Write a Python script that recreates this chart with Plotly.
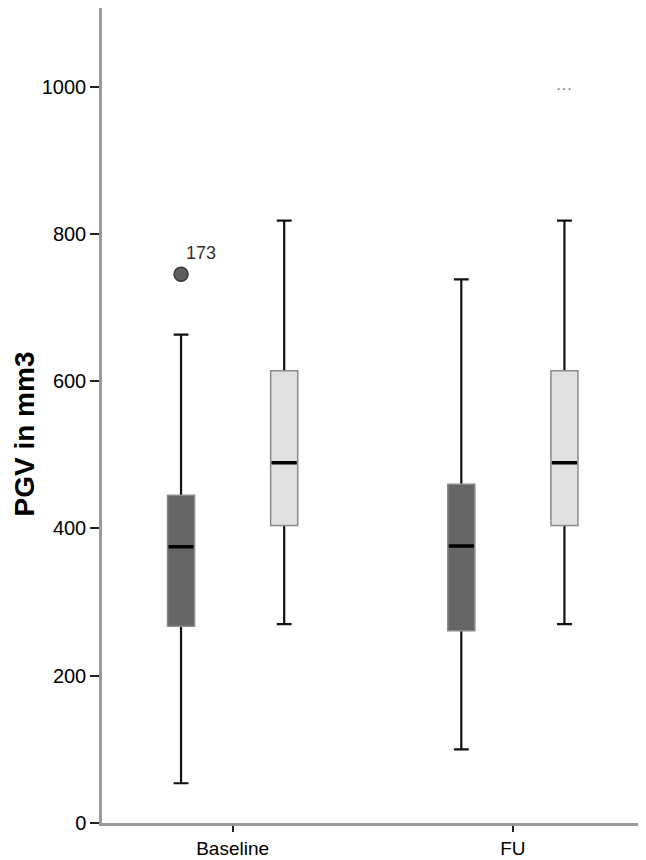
import plotly.graph_objects as go

# ---------------- data ----------------
CATEGORIES = ["Baseline", "FU"]

DARK_LOWER = [54, 100]
DARK_Q1 = [267, 261]
DARK_MEDIAN = [375, 376]
DARK_Q3 = [445, 460]
DARK_UPPER = [663, 738]

LIGHT_LOWER = [270, 270]
LIGHT_Q1 = [404, 404]
LIGHT_MEDIAN = [489, 489]
LIGHT_Q3 = [614, 614]
LIGHT_UPPER = [818, 818]

OUTLIER_CATEGORY = ["Baseline"]
OUTLIER_VALUE = [745]
OUTLIER_LABEL = ["173"]

EXTRA_LABEL_CATEGORY = ["FU"]
EXTRA_LABEL_VALUE = [997]
EXTRA_LABEL_TEXT = ["···"]

Y_TICKS = [0, 200, 400, 600, 800, 1000]
Y_TITLE = "PGV in mm3"

# ---------------- style ----------------
FONT = "Liberation Sans, Arial, sans-serif"
OFFSET = 0.184
BOX_W = 0.0965
DARK_FILL = "#666666"
LIGHT_FILL = "#e1e1e1"
OUTLINE = "#8a8a8a"
INK = "#111111"

fig = go.Figure()


def add_series(offset, fill, lower, q1, med, q3, upper):
    pos = [i + offset for i in range(len(CATEGORIES))]
    # whiskers + caps (collapsed box at the median)
    fig.add_trace(go.Box(
        x=pos, q1=med, median=med, q3=med, lowerfence=lower, upperfence=upper,
        orientation="v", width=BOX_W, whiskerwidth=0.55, boxpoints=False,
        line=dict(color=INK, width=2.2), fillcolor="rgba(0,0,0,0)",
        hoverinfo="skip", showlegend=False))
    # filled box with grey outline
    fig.add_trace(go.Box(
        x=pos, q1=q1, median=med, q3=q3, lowerfence=q1, upperfence=q3,
        orientation="v", width=BOX_W, whiskerwidth=0, boxpoints=False,
        line=dict(color=OUTLINE, width=1.5), fillcolor=fill,
        hoverinfo="skip", showlegend=False))
    # thick median line
    fig.add_trace(go.Box(
        x=pos, q1=med, median=med, q3=med, lowerfence=med, upperfence=med,
        orientation="v", width=BOX_W * 0.93, whiskerwidth=0, boxpoints=False,
        line=dict(color="#000000", width=3.5), fillcolor="rgba(0,0,0,0)",
        hoverinfo="skip", showlegend=False))
    return pos


add_series(-OFFSET, DARK_FILL, DARK_LOWER, DARK_Q1, DARK_MEDIAN, DARK_Q3, DARK_UPPER)
add_series(OFFSET, LIGHT_FILL, LIGHT_LOWER, LIGHT_Q1, LIGHT_MEDIAN, LIGHT_Q3, LIGHT_UPPER)

# outliers (dark series)
out_x = [CATEGORIES.index(c) - OFFSET for c in OUTLIER_CATEGORY]
fig.add_trace(go.Scatter(
    x=out_x, y=OUTLIER_VALUE, mode="markers",
    marker=dict(size=14, color="#5f5f5f", line=dict(color="#3a3a3a", width=1.5)),
    hoverinfo="skip", showlegend=False))
for x, y, t in zip(out_x, OUTLIER_VALUE, OUTLIER_LABEL):
    fig.add_annotation(x=x, y=y, text=t, showarrow=False, xanchor="left",
                       yanchor="bottom", xshift=3, yshift=9,
                       font=dict(family=FONT, size=18, color="#333333"))

# extra label (light series)
for c, y, t in zip(EXTRA_LABEL_CATEGORY, EXTRA_LABEL_VALUE, EXTRA_LABEL_TEXT):
    fig.add_annotation(x=CATEGORIES.index(c) + OFFSET, y=y, text=t, showarrow=False,
                       xanchor="center", yanchor="middle",
                       font=dict(family=FONT, size=16, color="#777777"))

# y-axis title
fig.add_annotation(xref="paper", yref="paper", x=-0.143, y=0.477,
                   text="<b>" + Y_TITLE + "</b>", textangle=-90, showarrow=False,
                   xanchor="center", yanchor="middle",
                   font=dict(family=FONT, size=28, color="#000000"))

axis_common = dict(
    showline=True, linecolor="#9a9a9a", linewidth=2.5, mirror=False,
    ticks="outside", tickwidth=2, tickcolor="#222222",
    showgrid=False, zeroline=False, automargin=False,
)

fig.update_layout(
    width=638, height=852,
    margin=dict(l=94, r=0, t=0, b=37),
    paper_bgcolor="white", plot_bgcolor="white",
    boxmode="overlay",
    showlegend=False,
    xaxis=dict(range=[-0.466, 1.475], tickvals=list(range(len(CATEGORIES))),
               ticktext=CATEGORIES, ticklen=6,
               tickfont=dict(family=FONT, size=19, color="#000000"), **axis_common),
    yaxis=dict(range=[0, 1106.6], tickvals=Y_TICKS, ticklen=9,
               ticktext=[str(v) for v in Y_TICKS],
               tickfont=dict(family=FONT, size=20, color="#000000"), **axis_common),
)

fig.write_html("out.html")
